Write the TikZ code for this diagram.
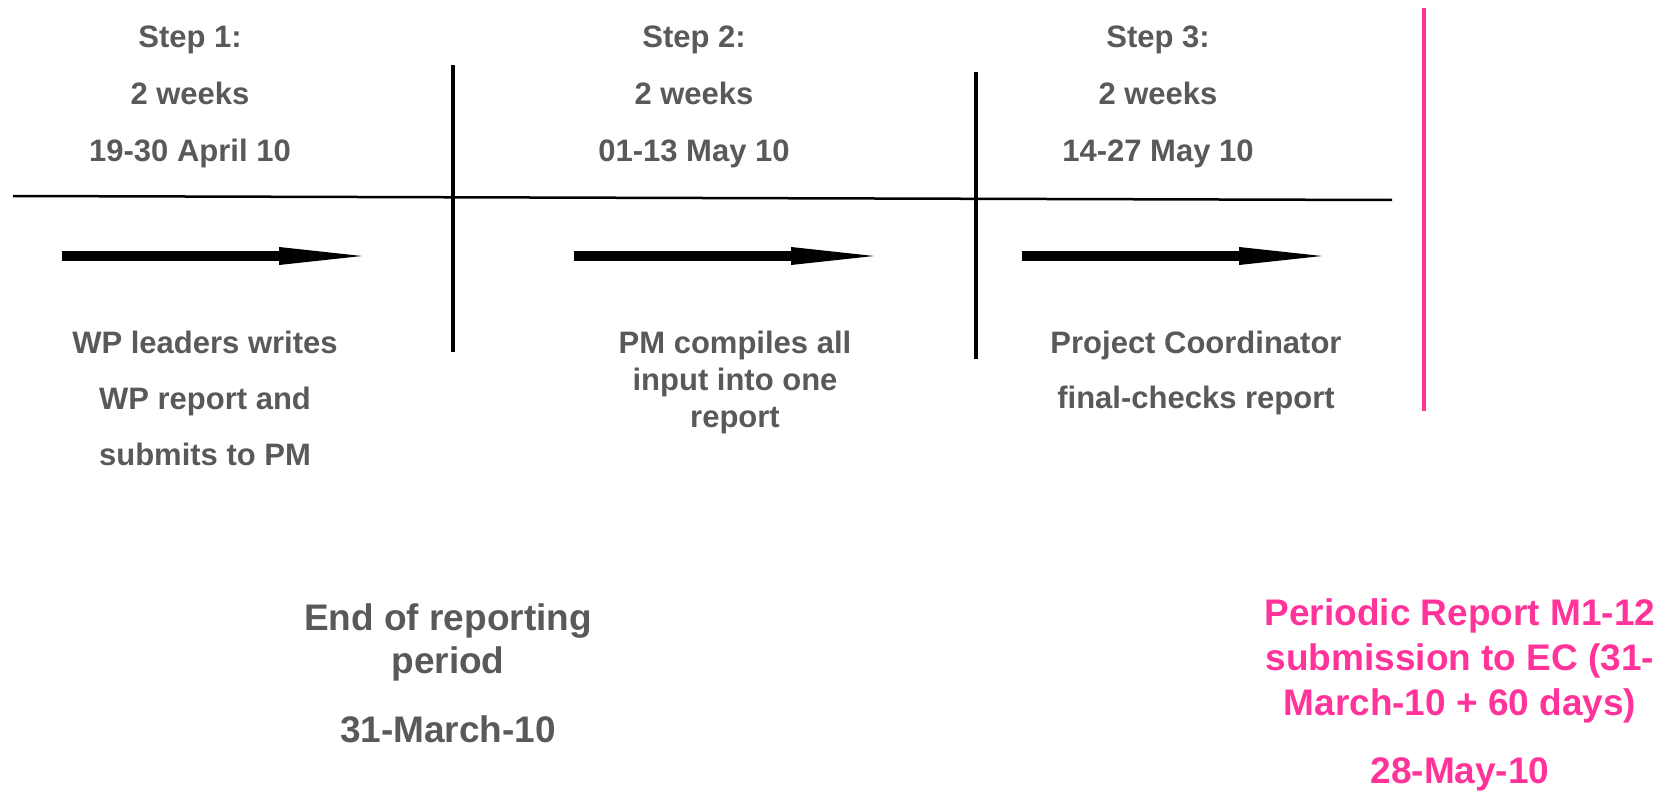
\documentclass[tikz,border=0pt]{standalone}
\usepackage{fontspec}
\setmainfont{Liberation Sans}
\usetikzlibrary{arrows.meta}
\definecolor{txtgray}{RGB}{89,89,89}
\definecolor{ecpink}{RGB}{255,51,153}
\begin{document}
\begin{tikzpicture}[x=0.5pt, y=-0.5pt,
    steptext/.style={anchor=base, align=center, inner sep=0pt, text=txtgray,
      font=\fontsize{15.5}{28.5}\selectfont\bfseries},
    bigtext/.style={anchor=base, align=center, inner sep=0pt, text=txtgray,
      font=\fontsize{18.5}{21.5}\selectfont\bfseries},
    pinktext/.style={bigtext, text=ecpink, font=\fontsize{18.5}{22.5}\selectfont\bfseries},
    bigarrow/.style={line width=5pt,
      -{Triangle[length=41.5pt 0 0, width=9pt 0 0, line width=0pt 0 0]}}]
  \useasboundingbox (0,0) rectangle (1674,792);
  % 時間軸と区切り線
  \draw[line width=1.25pt] (13,196) -- (1392,200);
  \draw[line width=1.75pt] (453,65) -- (453,352);
  \draw[line width=1.75pt] (976,72) -- (976,359);
  \draw[line width=2pt, ecpink] (1424,8) -- (1424,411);
  % 各ステップ (base = 最後の行)
  \node[steptext] (step1) at (190,162) {Step 1:\\2 weeks\\19-30 April 10};
  \node[steptext] (step2) at (694,162) {Step 2:\\2 weeks\\01-13 May 10};
  \node[steptext] (step3) at (1158,162) {Step 3:\\2 weeks\\14-27 May 10};
  % 矢印
  \coordinate (arr1s) at (62,256);
  \coordinate (arr1e) at (362,256);
  \coordinate (arr2s) at (574,256);
  \coordinate (arr2e) at (874,256);
  \coordinate (arr3s) at (1022,256);
  \coordinate (arr3e) at (1322,256);
  \draw[bigarrow] (arr1s) -- (arr1e);
  \draw[bigarrow] (arr2s) -- (arr2e);
  \draw[bigarrow] (arr3s) -- (arr3e);
  % 作業内容
  \node[steptext, font=\fontsize{15.5}{28}\selectfont\bfseries] (task1) at (205,465)
    {WP leaders writes\\WP report and\\submits to PM};
  \node[steptext, font=\fontsize{15.5}{18.5}\selectfont\bfseries] (task2) at (735,427)
    {PM compiles all\\input into one\\report};
  \node[steptext, font=\fontsize{15.5}{27.5}\selectfont\bfseries] (task3) at (1196,408)
    {Project Coordinator\\final-checks report};
  % 期間の終わりと提出
  \node[bigtext] (periodend) at (448,742) {End of reporting\\period\\[13pt]31-March-10};
  \node[pinktext] (deadline) at (1460,783)
    {Periodic Report M1-12\\submission to EC (31-\\March-10 + 60 days)\\[11.5pt]28-May-10};
\end{tikzpicture}
\end{document}
